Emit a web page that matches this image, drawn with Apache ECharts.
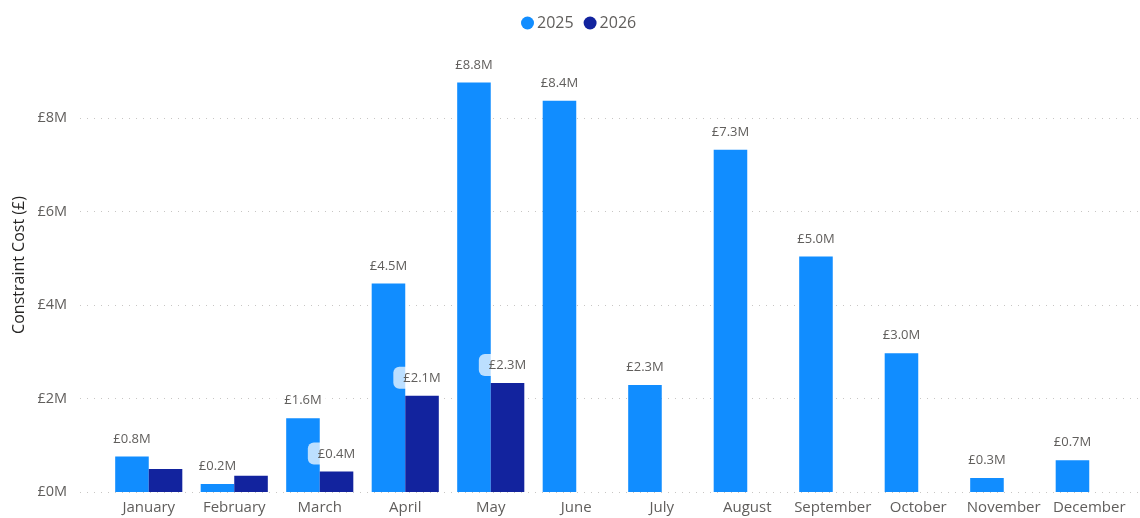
<!DOCTYPE html>
<html>
<head>
<meta charset="utf-8">
<title>Constraint Cost by Month</title>
<script src="https://cdn.jsdelivr.net/npm/echarts@6/dist/echarts.min.js"></script>
<style>
  html, body { margin: 0; padding: 0; background: #ffffff; }
  #chart { width: 1140px; height: 518px; }
</style>
</head>
<body>
<div id="chart"></div>
<script>
// Monthly constraint cost, in £ millions
const months = ['January', 'February', 'March', 'April', 'May', 'June', 'July',
                'August', 'September', 'October', 'November', 'December'];
const cost2025 = [0.76, 0.17, 1.58, 4.46, 8.76, 8.37, 2.29, 7.32, 5.04, 2.97, 0.30, 0.68];
const cost2026 = [0.49, 0.35, 0.44, 2.06, 2.33, null, null, null, null, null, null, null];
// 2026 months whose value label is shown
const labelled2026 = [false, false, true, true, true, false, false, false, false, false, false, false];
const yTicks = [0, 2, 4, 6, 8];

const FONT = '"Open Sans", "Noto Sans", sans-serif';
const GREY = '#605E5C';

const chart = echarts.init(document.getElementById('chart'), null, { renderer: 'canvas' });

const fmt = v => '£' + v.toFixed(1) + 'M';

const baseLabel = {
  show: true,
  position: 'top',
  distance: 7,
  color: GREY,
  fontFamily: FONT,
  fontSize: 13,
  formatter: p => fmt(p.value),
  backgroundColor: 'rgba(255,255,255,0.72)',
  borderRadius: 6,
  padding: [5, 10, 4, 10]
};

chart.setOption({
  animation: false,
  legend: {
    top: 10,
    left: 516,
    icon: 'circle',
    itemWidth: 13,
    itemHeight: 13,
    itemGap: 10,
    textStyle: { color: GREY, fontFamily: FONT, fontSize: 16, padding: [0, 0, 0, -2] },
    data: ['2025', '2026']
  },
  graphic: [{
    type: 'text',
    rotation: Math.PI / 2,
    x: 19,
    y: 265,
    style: {
      text: 'Constraint Cost (£)',
      fill: '#252423',
      font: '16px ' + FONT,
      textAlign: 'center',
      textVerticalAlign: 'middle'
    }
  }],
  grid: [
    { left: 106, right: 8, top: 118, bottom: 26, containLabel: false },
    { left: 80, right: 0, top: 118, bottom: 26, containLabel: false }
  ],
  xAxis: [{
    type: 'category',
    gridIndex: 0,
    data: months,
    axisLine: { show: false },
    axisTick: { show: false },
    axisLabel: { color: GREY, fontFamily: FONT, fontSize: 15, margin: 8, interval: 0 }
  }, {
    type: 'value',
    gridIndex: 1,
    show: false
  }],
  yAxis: [{
    type: 'value',
    gridIndex: 0,
    min: 0,
    max: 8,
    interval: 2,
    show: false
  }, {
    type: 'value',
    gridIndex: 1,
    min: yTicks[0],
    max: yTicks[yTicks.length - 1],
    interval: yTicks[1] - yTicks[0],
    axisLine: { show: false },
    axisTick: { show: false },
    axisLabel: {
      color: GREY, fontFamily: FONT, fontSize: 14.5, margin: 13,
      formatter: v => '£' + v + 'M'
    },
    splitLine: { lineStyle: { color: '#c8c6c4', width: 1, type: [1, 6] } }
  }],
  series: [{
    name: '2025',
    type: 'bar',
    xAxisIndex: 0,
    yAxisIndex: 0,
    clip: false,
    barGap: '0%',
    barCategoryGap: '21.5%',
    itemStyle: { color: '#118DFF' },
    data: cost2025,
    label: baseLabel,
    z: 2
  }, {
    name: '2026',
    type: 'bar',
    xAxisIndex: 0,
    yAxisIndex: 0,
    clip: false,
    barGap: '0%',
    barCategoryGap: '21.5%',
    itemStyle: { color: '#12239E' },
    data: cost2026.map((v, i) => ({ value: v, label: { show: labelled2026[i] && v != null } })),
    label: Object.assign({}, baseLabel, { formatter: p => p.value == null ? '' : fmt(p.value) }),
    z: 3
  }]
});
</script>
</body>
</html>
